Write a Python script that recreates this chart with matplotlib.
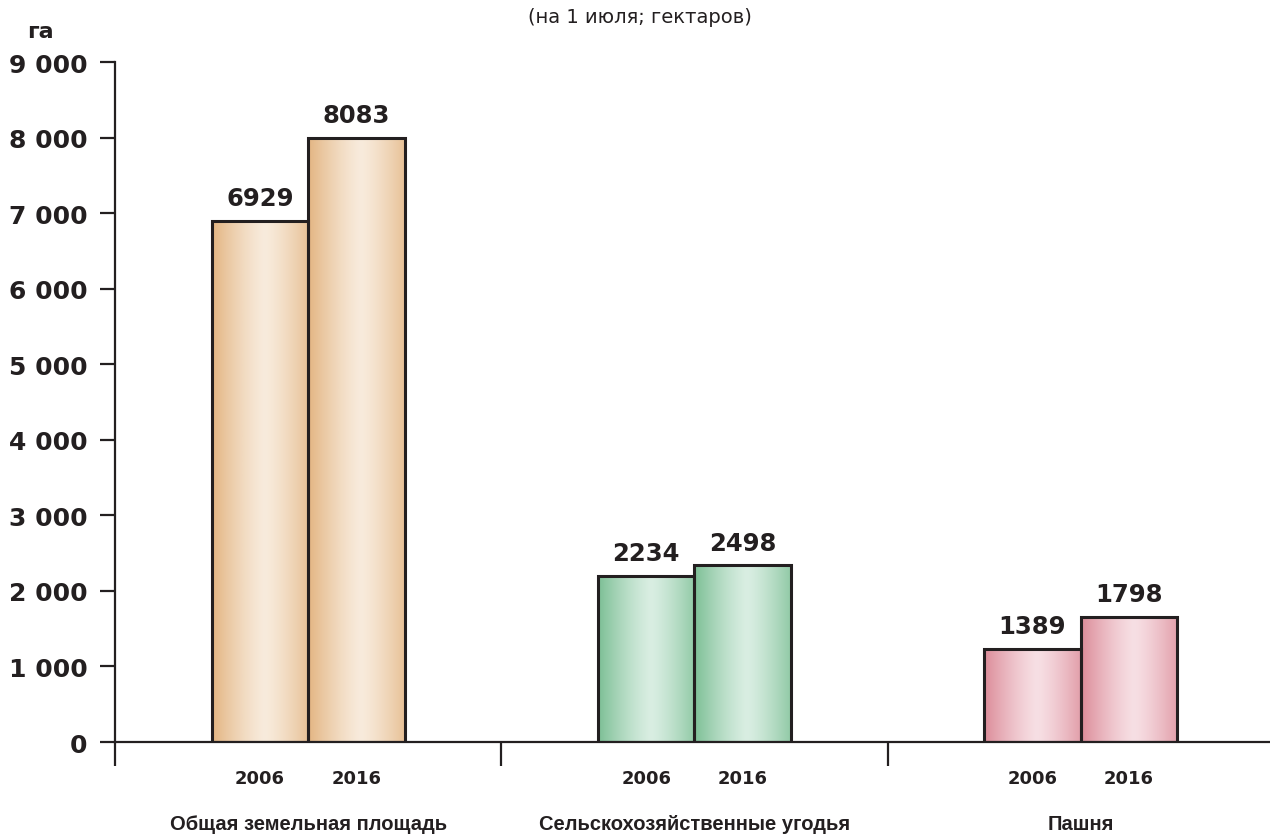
"""Land area bar chart (2006 vs 2016) with gradient-filled bars."""
import matplotlib
matplotlib.use("Agg")
import matplotlib.pyplot as plt
import numpy as np
from matplotlib.colors import LinearSegmentedColormap

plt.rcParams["font.family"] = ["DejaVu Sans"]
CAT_FONT = ["Liberation Sans", "DejaVu Sans"]

categories = ["Общая земельная площадь", "Сельскохозяйственные угодья", "Пашня"]
years = ["2006", "2016"]
# printed values above the bars
labels_2006 = [6929, 2234, 1389]
labels_2016 = [8083, 2498, 1798]
# bar heights as drawn in the picture
heights_2006 = [6900, 2200, 1230]
heights_2016 = [8000, 2340, 1655]

yticks = [0, 1000, 2000, 3000, 4000, 5000, 6000, 7000, 8000, 9000]
ytick_labels = ["0", "1 000", "2 000", "3 000", "4 000", "5 000", "6 000", "7 000", "8 000", "9 000"]

# (edge, centre) colour of the gradient per group
group_colors = [("#e3b582", "#f8ebdc"), ("#7cbf95", "#d9eee2"), ("#dc8c99", "#f7dfe4")]

BAR_W = 0.25
INK = "#231f20"


def _gradient_fill(ax, bar, edge, centre):
    x0, y0 = bar.get_x(), bar.get_y()
    w, h = bar.get_width(), bar.get_height()
    cmap = LinearSegmentedColormap.from_list("g", [edge, centre])
    t = np.linspace(0, 1, 256)
    prof = 1 - np.clip(np.abs(t - 0.55) / 0.55, 0, 1) ** 1.3
    img = ax.imshow(prof[np.newaxis, :], cmap=cmap, vmin=0, vmax=1, aspect="auto",
                    extent=(x0, x0 + w, y0, y0 + h), origin="lower", zorder=2,
                    interpolation="bilinear")
    img.set_clip_path(bar)


fig = plt.figure(figsize=(12.7, 8.37), dpi=100)
ax = fig.add_axes([0.0906, 0.1123, 0.9094, 0.8124])

centers = np.arange(len(categories)) + 0.5
for i, c in enumerate(centers):
    for j, (hts, labs) in enumerate([(heights_2006, labels_2006), (heights_2016, labels_2016)]):
        xc = c - BAR_W / 2 + j * BAR_W
        bar = ax.bar(xc, hts[i], width=BAR_W, facecolor="none", edgecolor=INK,
                     linewidth=2.2, zorder=3)[0]
        _gradient_fill(ax, bar, *group_colors[i])
        ax.text(xc, hts[i] + 300, str(labs[i]), ha="center", va="center",
                fontsize=17.5, fontweight="bold", color=INK)
        ax.text(xc, -470, years[j], ha="center", va="center",
                fontsize=13, fontweight="bold", color=INK)
    ax.text(c, -1085, categories[i], ha="center", va="center", family=CAT_FONT,
            fontsize=14.5, fontweight="bold", color=INK)

ax.set_xlim(0, 2.99)
ax.set_ylim(0, 9000)
ax.set_yticks(yticks)
ax.set_yticklabels(ytick_labels, fontsize=18, fontweight="bold", color=INK)
ax.set_xticks([0, 1, 2])
ax.set_xticklabels([])
ax.tick_params(axis="y", direction="out", length=11, width=1.6, color=INK, pad=9)
ax.tick_params(axis="x", direction="out", length=17, width=1.6, color=INK)

for side in ["top", "right"]:
    ax.spines[side].set_visible(False)
for side in ["left", "bottom"]:
    ax.spines[side].set_linewidth(1.6)
    ax.spines[side].set_color(INK)

fig.text(0.021, 0.962, "га", ha="left", va="center", fontsize=16, fontweight="bold", color=INK)
fig.text(0.504, 0.979, "(на 1 июля; гектаров)", ha="center", va="center", fontsize=14, color=INK)

fig.savefig("out.png", dpi=100)
